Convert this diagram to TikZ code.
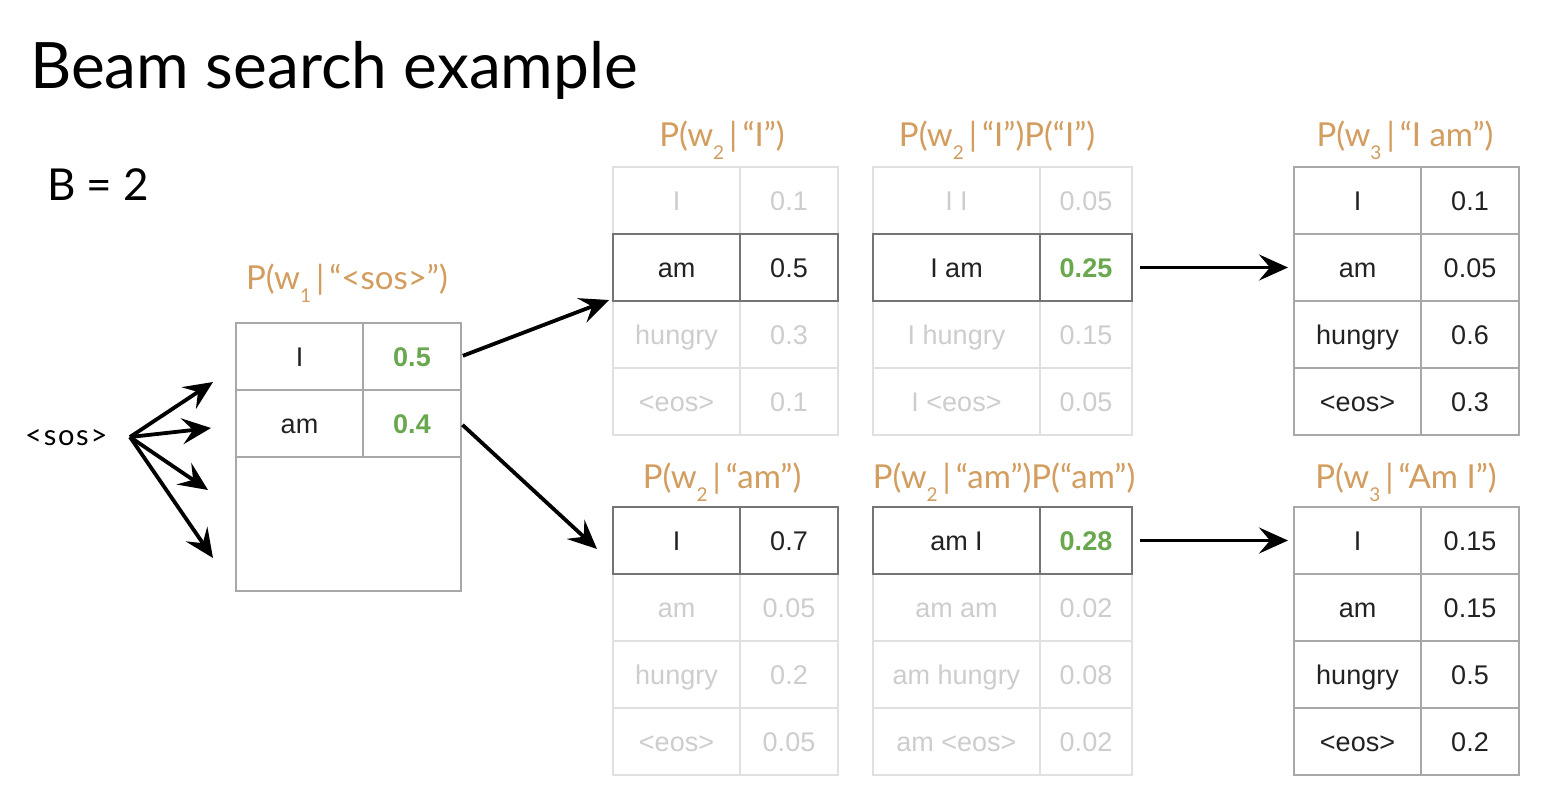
\documentclass[tikz,border=0pt]{standalone}
\usepackage{fontspec}
\setmainfont{Lato}
\newfontfamily\cellfont{Liberation Sans}
\usetikzlibrary{arrows.meta}

\definecolor{labelorange}{HTML}{D29D5E}
\definecolor{probgreen}{HTML}{6AA84F}
\definecolor{inktext}{HTML}{222222}
\definecolor{fadetext}{HTML}{CDCDCD}
\definecolor{gridmid}{HTML}{A8A8A8}
\definecolor{gridlight}{HTML}{E0E0E0}
\definecolor{griddark}{HTML}{747474}

% lowered index digit used in the probability labels
\newcommand\wsub[1]{\raisebox{-0.4em}{\fontsize{19}{19}\selectfont #1}}
% spaced bar between the word index and the condition
\newcommand\given{\hspace{5pt}|\hspace{5pt}}

\tikzset{
  cell/.style={inner sep=0pt, outer sep=0pt, minimum height=67pt, line width=1.3pt,
    text height=19.5pt, text depth=0pt,
    font=\cellfont\fontsize{27}{32}\selectfont},
  lbl/.style={anchor=base, inner sep=0pt, text=labelorange, font=\fontsize{33}{36}\selectfont},
  arr/.style={line width=3.8pt, -{Stealth[length=29pt,width=26pt,inset=11pt]}},
  hirow/.style={draw=griddark, line width=1.4pt},
}

% #1 name, #2 left x, #3 top y, #4 word column width, #5 value column width,
% #6 grid colour, #7 rows: word/value/word colour/value colour/value font
\newcommand\probtable[7]{%
  \foreach[count=\i] \w/\v/\wc/\vc/\vf in {#7}{%
    \node[cell, draw=#6, text=\wc, minimum width=#4pt] (#1w\i)
      at ({#2+#4/2},{#3+(\i-0.5)*67}) {\w};
    \node[cell, draw=#6, text=\vc, minimum width=#5pt] (#1v\i)
      at ({#2+#4+#5/2},{#3+(\i-0.5)*67}) {\vf\v};
  }%
}

\begin{document}
\begin{tikzpicture}[x=1pt,y=-1pt]
\useasboundingbox[fill=white] (0,0) rectangle (1556,804);

% headings
\node[anchor=base west, inner sep=0pt, font=\fontsize{64}{70}\selectfont] (title) at (30,88) {Beam search example};
\node[anchor=base west, inner sep=0pt, font=\fontsize{44}{48}\selectfont] (beam) at (47,200) {B = 2};
\node[anchor=west, inner sep=0pt, font=\fontsize{29}{32}\selectfont\addfontfeature{LetterSpace=6}] (sos) at (25,438) {<sos>};

% first step
\node[lbl] (l1) at (347,289) {P(w\wsub{1}\given“<sos>”)};
\probtable{t1}{236}{323}{127}{98}{gridmid}{%
  I/0.5/inktext/probgreen/\bfseries,
  am/0.4/inktext/probgreen/\bfseries}
\node[cell, draw=gridmid, minimum width=225pt, minimum height=134pt, anchor=north west] (t1rest) at (236,457) {};

% second step, branch "I"
\node[lbl] (la2) at (722,146) {P(w\wsub{2}\given“I”)};
\probtable{a2}{613}{167}{127}{98}{gridlight}{%
  I/0.1/fadetext/fadetext/\relax,
  am/0.5/inktext/inktext/\relax,
  hungry/0.3/fadetext/fadetext/\relax,
  <eos>/0.1/fadetext/fadetext/\relax}
\draw[hirow] (a2w2.north west) rectangle (a2v2.south east) (a2w2.north east) -- (a2w2.south east);

\node[lbl] (la3) at (997,146) {P(w\wsub{2}\given“I”)P(“I”)};
\probtable{a3}{873}{167}{167}{92}{gridlight}{%
  I I/0.05/fadetext/fadetext/\relax,
  I am/0.25/inktext/probgreen/\bfseries,
  I hungry/0.15/fadetext/fadetext/\relax,
  I <eos>/0.05/fadetext/fadetext/\relax}
\draw[hirow] (a3w2.north west) rectangle (a3v2.south east) (a3w2.north east) -- (a3w2.south east);

% second step, branch "am"
\node[lbl] (lb2) at (722,488) {P(w\wsub{2}\given“am”)};
\probtable{b2}{613}{507}{127}{98}{gridlight}{%
  I/0.7/inktext/inktext/\relax,
  am/0.05/fadetext/fadetext/\relax,
  hungry/0.2/fadetext/fadetext/\relax,
  <eos>/0.05/fadetext/fadetext/\relax}
\draw[hirow] (b2w1.north west) rectangle (b2v1.south east) (b2w1.north east) -- (b2w1.south east);

\node[lbl] (lb3) at (1004,488) {P(w\wsub{2}\given“am”)P(“am”)};
\probtable{b3}{873}{507}{167}{92}{gridlight}{%
  am I/0.28/inktext/probgreen/\bfseries,
  am am/0.02/fadetext/fadetext/\relax,
  am hungry/0.08/fadetext/fadetext/\relax,
  am <eos>/0.02/fadetext/fadetext/\relax}
\draw[hirow] (b3w1.north west) rectangle (b3v1.south east) (b3w1.north east) -- (b3w1.south east);

% third step
\node[lbl] (la4) at (1405,146) {P(w\wsub{3}\given“I am”)};
\probtable{a4}{1294}{167}{127}{98}{gridmid}{%
  I/0.1/inktext/inktext/\relax,
  am/0.05/inktext/inktext/\relax,
  hungry/0.6/inktext/inktext/\relax,
  <eos>/0.3/inktext/inktext/\relax}

\node[lbl] (lb4) at (1406,488) {P(w\wsub{3}\given“Am I”)};
\probtable{b4}{1294}{507}{127}{98}{gridmid}{%
  I/0.15/inktext/inktext/\relax,
  am/0.15/inktext/inktext/\relax,
  hungry/0.5/inktext/inktext/\relax,
  <eos>/0.2/inktext/inktext/\relax}

% arrows
\coordinate (fan) at (130,437);
\coordinate (f1) at (213,382);
\coordinate (f2) at (211,428);
\coordinate (f3) at (208,490);
\coordinate (f4) at (213,558);
\coordinate (e1) at (609,300);
\coordinate (e2) at (597,549);
\foreach \k in {1,...,4} \draw[arr] (fan) -- (f\k);
\draw[arr, shorten <=2pt] (t1v1.east) -- (e1);
\draw[arr, shorten <=2pt] (t1v2.east) -- (e2);
\draw[arr, shorten <=8pt, shorten >=6pt] (a3v2.east) -- (a4w2.west);
\draw[arr, shorten <=8pt, shorten >=6pt] (b3v1.east) -- (b4w1.west);
\end{tikzpicture}
\end{document}
